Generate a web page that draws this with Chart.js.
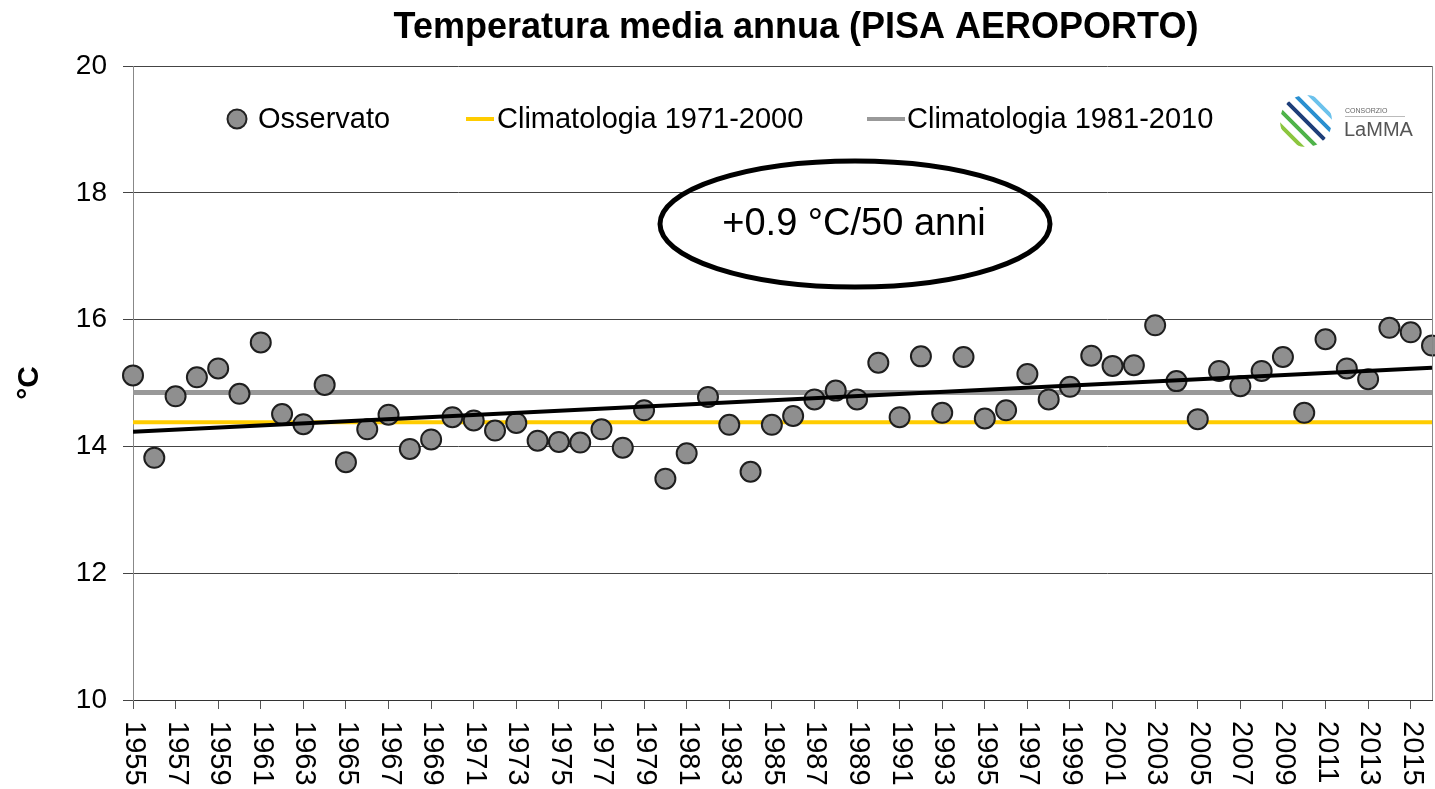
<!DOCTYPE html>
<html>
<head>
<meta charset="utf-8">
<title>Temperatura media annua (PISA AEROPORTO)</title>
<script src="https://cdn.jsdelivr.net/npm/chart.js@4.4.0/dist/chart.umd.min.js"></script>
<style>
  html, body { margin: 0; padding: 0; background: #fff; overflow: hidden; }
  #wrap { width: 1435px; height: 789px; position: relative; }
  #tempChart { display: block; }
</style>
</head>
<body>
<div id="wrap"><canvas id="tempChart"></canvas></div>
<script>
// anni osservati
const years = [
  1955, 1956, 1957, 1958, 1959, 1960, 1961, 1962, 1963, 1964,
  1965, 1966, 1967, 1968, 1969, 1970, 1971, 1972, 1973, 1974,
  1975, 1976, 1977, 1978, 1979, 1980, 1981, 1982, 1983, 1984,
  1985, 1986, 1987, 1988, 1989, 1990, 1991, 1992, 1993, 1994,
  1995, 1996, 1997, 1998, 1999, 2000, 2001, 2002, 2003, 2004,
  2005, 2006, 2007, 2008, 2009, 2010, 2011, 2012, 2013, 2014,
  2015, 2016
];

// temperatura media annua osservata (°C)
const observed = [
  15.12, 13.82, 14.79, 15.09, 15.23, 14.83, 15.64, 14.51, 14.35, 14.97,
  13.75, 14.27, 14.50, 13.96, 14.11, 14.46, 14.41, 14.25, 14.37, 14.09,
  14.07, 14.06, 14.27, 13.98, 14.57, 13.49, 13.89, 14.78, 14.34, 13.60,
  14.34, 14.48, 14.74, 14.88, 14.74, 15.32, 14.46, 15.42, 14.53, 15.41,
  14.44, 14.57, 15.14, 14.74, 14.94, 15.43, 15.27, 15.28, 15.91, 15.03,
  14.43, 15.19, 14.95, 15.19, 15.41, 14.53, 15.69, 15.23, 15.06, 15.87,
  15.80, 15.59
];

// climatologie e retta di tendenza (inizio, fine)
const clim7100 = [14.38, 14.38];
const clim8110 = [14.85, 14.85];
const trend = [14.23, 15.24];

// etichette asse x
const xTickYears = [
  1955, 1957, 1959, 1961, 1963, 1965, 1967, 1969, 1971, 1973,
  1975, 1977, 1979, 1981, 1983, 1985, 1987, 1989, 1991, 1993,
  1995, 1997, 1999, 2001, 2003, 2005, 2007, 2009, 2011, 2013, 2015
];
const yTicks = [10, 12, 14, 16, 18, 20];

const FONT = "'Liberation Sans', Arial, sans-serif";
const firstYear = years[0];
const lastYear = years[years.length - 1];

function span(values) {
  return [
    { x: firstYear, y: values[0] },
    { x: lastYear, y: values[1] }
  ];
}

/**
 * Draw title, rotated x labels, legend, annotation and logo
 */
const decorPlugin = {
  id: "decor",
  afterDraw(chart) {
    const ctx = chart.ctx;
    const area = chart.chartArea;
    const xScale = chart.scales.x;

    ctx.save();

    // right border of the plot
    ctx.strokeStyle = "#888";
    ctx.lineWidth = 1;
    ctx.beginPath();
    ctx.moveTo(area.right + 0.5, area.top);
    ctx.lineTo(area.right + 0.5, area.bottom);
    ctx.stroke();

    // title
    ctx.fillStyle = "#000";
    ctx.font = "bold 36px " + FONT;
    ctx.textAlign = "center";
    ctx.textBaseline = "alphabetic";
    ctx.fillText("Temperatura media annua (PISA AEROPORTO)", 796, 38);

    // x labels, read top to bottom
    ctx.font = "29px " + FONT;
    ctx.textAlign = "left";
    ctx.textBaseline = "middle";
    xTickYears.forEach((yr) => {
      const px = xScale.getPixelForValue(yr);
      ctx.save();
      ctx.translate(px + 1, area.bottom + 21);
      ctx.rotate(Math.PI / 2);
      ctx.fillText(String(yr), 0, 0);
      ctx.restore();
    });

    // legend
    const ly = 119;
    ctx.font = "29px " + FONT;
    ctx.textBaseline = "middle";
    ctx.beginPath();
    ctx.arc(237, ly, 9.5, 0, Math.PI * 2);
    ctx.fillStyle = "#8f8f8f";
    ctx.fill();
    ctx.lineWidth = 2;
    ctx.strokeStyle = "#222";
    ctx.stroke();
    ctx.fillStyle = "#000";
    ctx.fillText("Osservato", 258, ly + 1);

    ctx.lineWidth = 4;
    ctx.strokeStyle = "#ffcc00";
    ctx.beginPath();
    ctx.moveTo(466, ly);
    ctx.lineTo(494, ly);
    ctx.stroke();
    ctx.fillText("Climatologia 1971-2000", 497, ly + 1);

    ctx.strokeStyle = "#999";
    ctx.beginPath();
    ctx.moveTo(867, ly);
    ctx.lineTo(905, ly);
    ctx.stroke();
    ctx.fillText("Climatologia 1981-2010", 907, ly + 1);

    // trend annotation
    ctx.beginPath();
    ctx.ellipse(855, 224, 195, 63, 0, 0, Math.PI * 2);
    ctx.lineWidth = 5;
    ctx.strokeStyle = "#000";
    ctx.stroke();
    ctx.font = "38px " + FONT;
    ctx.textAlign = "center";
    ctx.fillText("+0.9 \u00B0C/50 anni", 854, 225);

    // LaMMA logo
    drawLogo(ctx, 1306, 121);

    ctx.restore();
  }
};

function drawLogo(ctx, cx, cy) {
  const stripes = ["#c9d62a", "#8cc63f", "#4fb34a", "#1f3f7a", "#2a8fd0", "#6cc2ec", "#a8dcf5"];
  ctx.save();
  ctx.beginPath();
  ctx.arc(cx, cy, 26, 0, Math.PI * 2);
  ctx.clip();
  ctx.lineCap = "round";
  ctx.lineWidth = 4;
  stripes.forEach((c, i) => {
    const off = (i - 3) * 7.5;
    ctx.strokeStyle = c;
    ctx.beginPath();
    ctx.moveTo(cx - 30 + off, cy - 30 - off);
    ctx.lineTo(cx + 30 + off, cy + 30 - off);
    ctx.stroke();
  });
  ctx.restore();

  ctx.fillStyle = "#666";
  ctx.font = "7px " + FONT;
  ctx.textAlign = "left";
  ctx.textBaseline = "alphabetic";
  ctx.fillText("CONSORZIO", 1345, 113);
  ctx.strokeStyle = "#bbb";
  ctx.lineWidth = 1;
  ctx.beginPath();
  ctx.moveTo(1345, 116.5);
  ctx.lineTo(1405, 116.5);
  ctx.stroke();
  ctx.fillStyle = "#555";
  ctx.font = "20px " + FONT;
  ctx.fillText("LaMMA", 1344, 136);
}

function createChart() {
  const ctx = document.getElementById("tempChart");

  new Chart(ctx, {
    type: "scatter",
    data: {
      datasets: [
        {
          label: "Tendenza",
          type: "line",
          data: span(trend),
          borderColor: "#000",
          borderWidth: 4,
          pointRadius: 0,
          order: 0
        },
        {
          label: "Osservato",
          data: years.map((yr, i) => ({ x: yr, y: observed[i] })),
          backgroundColor: "#8f8f8f",
          borderColor: "#1e1e1e",
          borderWidth: 2,
          pointRadius: 10,
          pointHoverRadius: 10,
          clip: false,
          order: 1
        },
        {
          label: "Climatologia 1981-2010",
          type: "line",
          data: span(clim8110),
          borderColor: "#999",
          borderWidth: 5,
          pointRadius: 0,
          order: 2
        },
        {
          label: "Climatologia 1971-2000",
          type: "line",
          data: span(clim7100),
          borderColor: "#ffcc00",
          borderWidth: 4,
          pointRadius: 0,
          order: 3
        }
      ]
    },
    options: {
      responsive: true,
      maintainAspectRatio: false,
      animation: false,
      layout: {
        autoPadding: false,
        padding: { top: 66, right: 3, left: 0, bottom: 0 }
      },
      plugins: {
        legend: { display: false },
        tooltip: { enabled: false }
      },
      scales: {
        x: {
          type: "linear",
          min: firstYear,
          max: lastYear,
          afterBuildTicks: (scale) => {
            scale.ticks = xTickYears.map((v) => ({ value: v }));
          },
          afterFit: (scale) => {
            scale.height = 89;
          },
          ticks: { display: false },
          grid: {
            drawOnChartArea: false,
            drawTicks: true,
            tickLength: 9,
            color: "#555"
          },
          border: { color: "#333", width: 1 }
        },
        y: {
          min: 10,
          max: 20,
          afterBuildTicks: (scale) => {
            scale.ticks = yTicks.map((v) => ({ value: v }));
          },
          afterFit: (scale) => {
            scale.width = 133;
          },
          ticks: {
            color: "#000",
            padding: 16,
            font: { family: FONT, size: 28 }
          },
          grid: {
            color: "#444",
            lineWidth: 1,
            tickLength: 10
          },
          border: { color: "#888", width: 1 },
          title: {
            display: true,
            text: "\u00B0C",
            color: "#000",
            padding: { top: 12, bottom: 0 },
            font: { family: FONT, size: 30, weight: "bold" }
          }
        }
      }
    },
    plugins: [decorPlugin]
  });
}

document.addEventListener("DOMContentLoaded", () => {
  createChart();
});
</script>
</body>
</html>
